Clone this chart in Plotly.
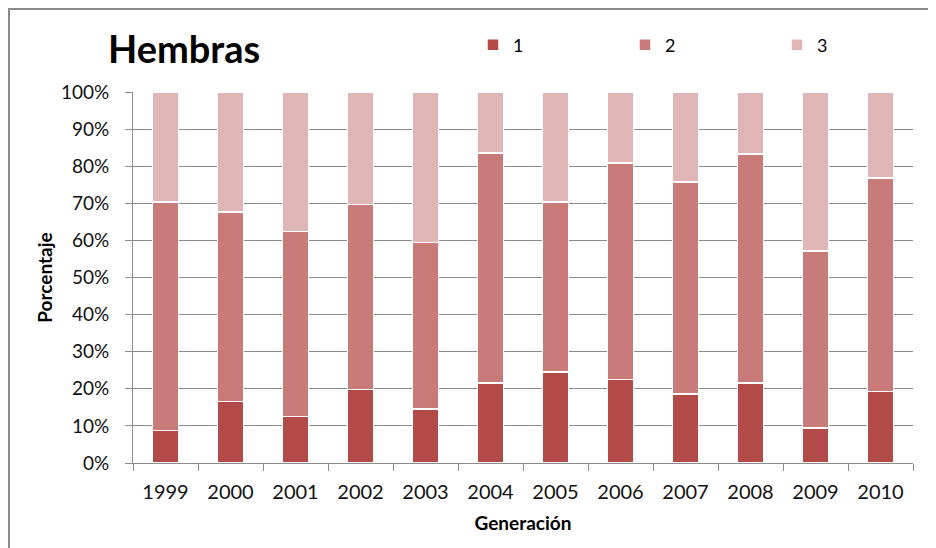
import plotly.graph_objects as go

years = ["1999", "2000", "2001", "2002", "2003", "2004", "2005", "2006", "2007", "2008", "2009", "2010"]
serie_1 = [8.7, 16.6, 12.5, 19.8, 14.6, 21.6, 24.5, 22.5, 18.6, 21.6, 9.4, 19.3]
cum_2 = [70.3, 67.7, 62.4, 69.7, 59.5, 83.6, 70.3, 80.8, 75.7, 83.3, 57.1, 76.8]
serie_2 = [round(c - a, 1) for c, a in zip(cum_2, serie_1)]
serie_3 = [round(100 - c, 1) for c in cum_2]
series_names = ["1", "2", "3"]
colors = ["#B24A48", "#C97B7A", "#DFB5B5"]

# page body has an 8px default margin; design in screen pixels and convert
OFF = 8
W, H = 928, 540
L, R, T, B = 133 - OFF, 23, 92 - OFF, 85
pw, ph = W - L - R, H - T - B

def px_x(x):
    return (x - OFF - L) / pw

def px_y(y):
    return (H - B - (y - OFF)) / ph

fig = go.Figure()
for name, vals, col in zip(series_names, [serie_1, serie_2, serie_3], colors):
    fig.add_trace(go.Bar(
        x=years, y=vals, name=name,
        marker=dict(color=col, line=dict(color="white", width=1.5)),
        width=0.4,
    ))

fig.update_layout(
    width=W, height=H,
    barmode="stack",
    plot_bgcolor="white", paper_bgcolor="white",
    margin=dict(l=L, r=R, t=T, b=B, autoexpand=False),
    font=dict(family="Lato, sans-serif", color="#000000"),
    showlegend=True,
    legend=dict(
        orientation="h", x=px_x(473), y=px_y(45), xanchor="left", yanchor="middle",
        font=dict(size=18), itemwidth=30, entrywidth=107, entrywidthmode="pixels",
        traceorder="normal", bgcolor="rgba(0,0,0,0)",
    ),
    xaxis=dict(
        type="category", tickson="boundaries", ticks="outside", ticklen=7,
        tickcolor="#8c8c8c", showline=True, linecolor="#8c8c8c", linewidth=1,
        showgrid=False, tickfont=dict(size=20, color="#111"), ticklabelstandoff=11,
        title=dict(text="<b>Generación</b>", font=dict(size=19), standoff=14),
    ),
    yaxis=dict(
        range=[0, 100], dtick=10, ticksuffix="%", ticks="outside", ticklen=7,
        tickcolor="#8c8c8c", showline=True, linecolor="#8c8c8c", linewidth=1,
        showgrid=True, gridcolor="#8c8c8c", gridwidth=1, zeroline=False,
        tickfont=dict(size=19, color="#111"), ticklabelstandoff=12,
        title=dict(text="<b>Porcentaje</b>", font=dict(size=19), standoff=3),
    ),
    annotations=[dict(
        text="<b>Hembras</b>", x=px_x(106), y=px_y(48), xref="paper", yref="paper",
        xanchor="left", yanchor="middle", showarrow=False,
        font=dict(size=38, family="Lato, sans-serif", color="#000"),
    )],
    shapes=[dict(
        type="rect", xref="paper", yref="paper",
        x0=px_x(9), x1=px_x(960), y0=px_y(570), y1=px_y(9),
        line=dict(color="#8a8a8a", width=2), fillcolor="rgba(0,0,0,0)", layer="below",
    )],
)

fig.write_html("out.html")
